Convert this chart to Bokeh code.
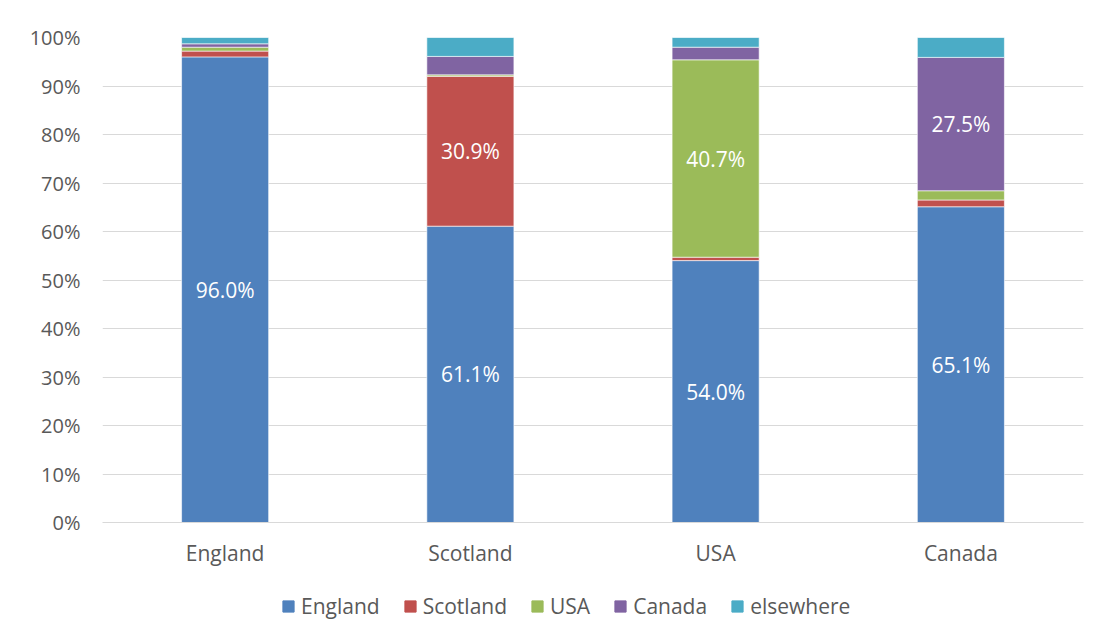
from bokeh.plotting import figure
from bokeh.layouts import column
from bokeh.models import ColumnDataSource, NumeralTickFormatter, FixedTicker, Legend, LegendItem, LabelSet, Range1d
from bokeh.core.properties import value
from bokeh.embed import file_html
from bokeh.resources import INLINE

categories = ["England", "Scotland", "USA", "Canada"]
series = ["England", "Scotland", "USA", "Canada", "elsewhere"]
england = [96.0, 61.1, 54.0, 65.1]
scotland = [1.2, 30.9, 0.7, 1.4]
usa = [0.8, 0.3, 40.7, 1.9]
canada = [0.7, 3.8, 2.6, 27.5]
elsewhere = [1.3, 3.9, 2.0, 4.1]
colors = ["#4F81BD", "#C0504D", "#9BBB59", "#8064A2", "#4BACC6"]
label_threshold = 10

vals = [england, scotland, usa, canada, elsewhere]
data = {"cat": categories}
for s, v in zip(series, vals):
    data[s] = [x / 100 for x in v]
src = ColumnDataSource(data)

FONT = "Open Sans"
p = figure(x_range=categories, y_range=(0, 1), width=1102, height=580,
           output_backend="svg", toolbar_location=None,
           min_border_left=102, min_border_right=19, min_border_top=37, min_border_bottom=58)
p.outline_line_color = None
renderers = p.vbar_stack(series, x="cat", width=0.355, source=src, color=colors,
                         line_color="white", line_width=0.6)

# labels
lx, ly, lt = [], [], []
for i, c in enumerate(categories):
    base = 0.0
    for v in vals:
        val = v[i]
        if val >= label_threshold:
            lx.append(c)
            ly.append((base + val / 2) / 100)
            lt.append(f"{val:.1f}%")
        base += val
lsrc = ColumnDataSource(dict(x=lx, y=ly, t=lt))
p.add_layout(LabelSet(x="x", y="y", text="t", source=lsrc, text_color="white",
                      text_font=value(FONT), text_font_size="21px", text_align="center",
                      text_baseline="middle"))

p.yaxis.ticker = FixedTicker(ticks=[i / 10 for i in range(11)])
p.yaxis.formatter = NumeralTickFormatter(format="0%")
p.yaxis.axis_line_color = None
p.yaxis.major_tick_line_color = None
p.yaxis.minor_tick_line_color = None
p.yaxis.major_label_text_font = FONT
p.yaxis.major_label_text_font_size = "20px"
p.yaxis.major_label_text_color = "#595959"
p.yaxis.major_label_standoff = 16

p.xaxis.axis_line_color = "#D9D9D9"
p.xaxis.major_tick_line_color = None
p.xaxis.minor_tick_line_color = None
p.xaxis.major_label_text_font = FONT
p.xaxis.major_label_text_font_size = "21px"
p.xaxis.major_label_text_color = "#595959"
p.xaxis.major_label_standoff = 10

p.xgrid.grid_line_color = None
p.ygrid.grid_line_color = "#D9D9D9"
p.ygrid.grid_line_width = 1

# legend strip below the chart
q = figure(width=1102, height=58, output_backend="svg", toolbar_location=None,
           x_axis_location=None, y_axis_location=None,
           x_range=Range1d(0, 1), y_range=Range1d(0, 1),
           min_border_left=0, min_border_right=0, min_border_top=0, min_border_bottom=0)
q.outline_line_color = None
q.grid.grid_line_color = None
leg_r = [q.rect(x=[-5], y=[-5], width=0.1, height=0.1, fill_color=c, line_color=c) for c in colors]
legend = Legend(items=[LegendItem(label=s, renderers=[r]) for s, r in zip(series, leg_r)],
                orientation="horizontal", location=(179, 18),
                label_text_font=FONT, label_text_font_size="21px", label_text_color="#595959",
                glyph_width=14, glyph_height=14, spacing=23, label_standoff=6,
                background_fill_alpha=0, border_line_color=None, padding=0, margin=0)
q.add_layout(legend, "center")

open("out.html", "w").write(file_html(column(p, q, spacing=0), INLINE))
